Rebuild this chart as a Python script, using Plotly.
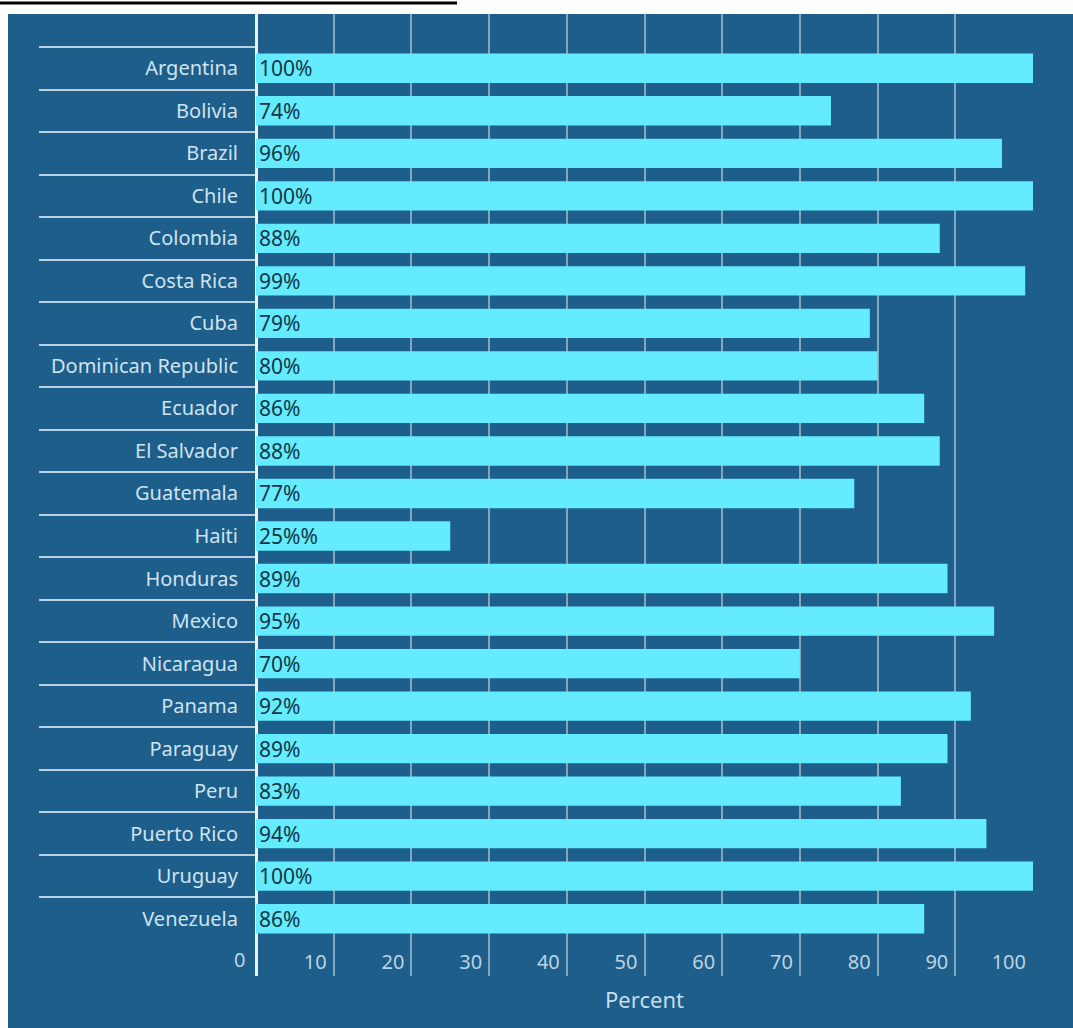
import plotly.graph_objects as go

countries = ["Argentina", "Bolivia", "Brazil", "Chile", "Colombia", "Costa Rica", "Cuba",
             "Dominican Republic", "Ecuador", "El Salvador", "Guatemala", "Haiti", "Honduras",
             "Mexico", "Nicaragua", "Panama", "Paraguay", "Peru", "Puerto Rico", "Uruguay",
             "Venezuela"]
values = [100, 74, 96, 100, 88, 99, 79, 80, 86, 88, 77, 25, 89, 95, 70, 92, 89, 83, 94, 100, 86]
bar_labels = ["100%", "74%", "96%", "100%", "88%", "99%", "79%", "80%", "86%", "88%", "77%",
              "25%%", "89%", "95%", "70%", "92%", "89%", "83%", "94%", "100%", "86%"]
x_ticks = [0, 10, 20, 30, 40, 50, 60, 70, 80, 90, 100]

BG = "#1d5e8a"
BAR = "#64ebfd"
LABEL = "#cfe3f1"
TICK = "#bcd3e4"
GRID = "rgba(255,255,255,0.45)"
FONT = "Noto Sans, Lato, sans-serif"

fig = go.Figure(go.Bar(
    x=values, y=countries, orientation="h",
    marker=dict(color=BAR, line=dict(width=0)),
    text=bar_labels, textposition="inside", insidetextanchor="start",
    constraintext="none",
    textfont=dict(color="#123647", size=21, family=FONT),
    cliponaxis=False,
))

W, H = 1073, 1028
L, R, T, B = 256, 40, 14, 52
pw, ph = W - L - R, H - T - B

def px2x(px):
    return (px - L) / pw

def py2y(py):
    return 1 - (py - T) / ph

fig.update_layout(
    width=W, height=H,
    margin=dict(l=L, r=R, t=T, b=B, pad=0),
    paper_bgcolor="white", plot_bgcolor=BG,
    bargap=0.31, showlegend=False,
    font=dict(family=FONT, color=LABEL),
    xaxis=dict(
        range=[0, 100], tickvals=x_ticks, ticktext=[str(v) for v in x_ticks],
        showgrid=True, gridcolor=GRID, gridwidth=2,
        zeroline=True, zerolinecolor="#e8f2f8", zerolinewidth=3,
        ticks="", ticklabelposition="inside left",
        ticklabelshift=-7, ticklabelstandoff=-3,
        tickfont=dict(size=20, color=TICK),
        title=dict(text="Percent", font=dict(size=22, color="#c8dcea"), standoff=18),
        fixedrange=True,
    ),
    yaxis=dict(
        type="category", categoryorder="array", categoryarray=countries,
        range=[21.347, -1.276],
        showgrid=False, zeroline=False, showline=False,
        ticks="outside", tickson="boundaries", ticklen=216, tickwidth=2,
        tickcolor="#b9d2e4", ticklabelstandoff=17,
        tickfont=dict(size=20, color=LABEL),
        fixedrange=True,
    ),
    annotations=[
        dict(text=str(x_ticks[0]), x=x_ticks[0], xref="x", y=0, yref="paper",
             xanchor="right", yanchor="bottom", xshift=-9, yshift=1, showarrow=False,
             font=dict(size=20, color=TICK, family=FONT)),
    ],
    shapes=[
        dict(type="rect", xref="paper", yref="paper", layer="below",
             x0=px2x(8), x1=px2x(1080), y0=py2y(1035), y1=py2y(14),
             fillcolor=BG, line=dict(width=0)),
        dict(type="line", xref="paper", yref="paper",
             x0=px2x(0), x1=px2x(457), y0=py2y(3), y1=py2y(3),
             line=dict(color="black", width=3)),
    ],
)

fig.write_html("out.html")
